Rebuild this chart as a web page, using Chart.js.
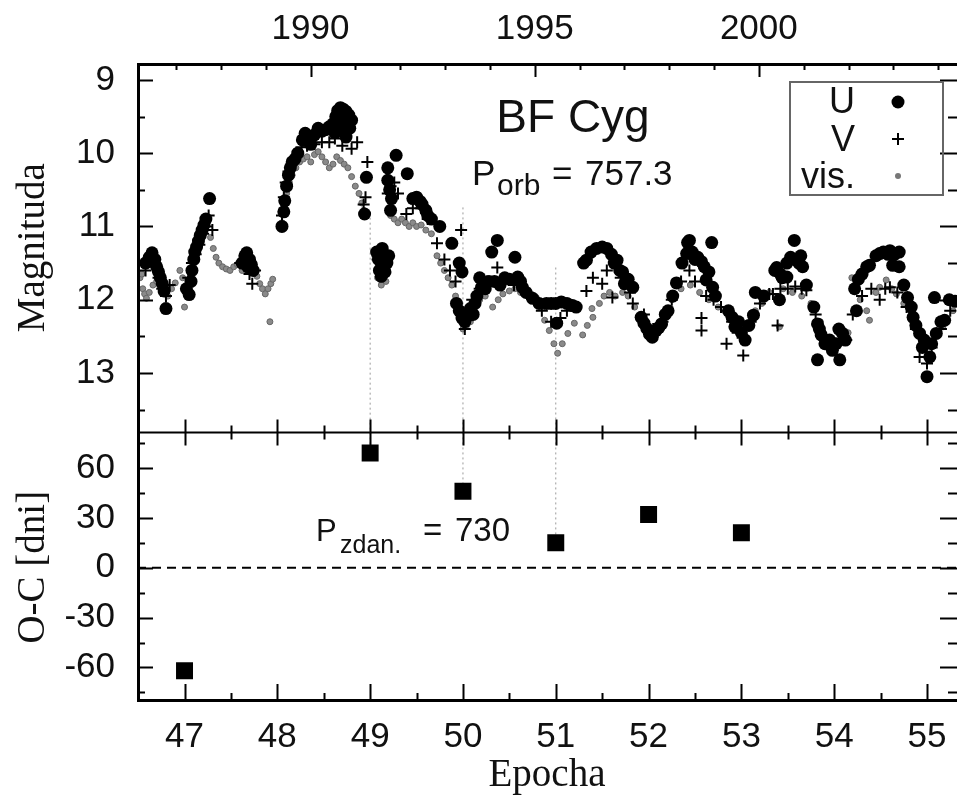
<!DOCTYPE html>
<html>
<head>
<meta charset="utf-8">
<script src="https://cdn.jsdelivr.net/npm/chart.js@4.4.1/dist/chart.umd.min.js"></script>
<style>
html,body{margin:0;padding:0;background:#fff;}
#wrap{width:957px;height:805px;}
</style>
</head>
<body>
<div id="wrap"><canvas id="c" width="957" height="805"></canvas></div>
<script>
// ---------- data ----------
const epochRange = [46.488, 55.323];
const yearRange = [1986.13, 2004.42];
const magRange = [8.77, 13.81];
const ocRange = [-80.8, 81.4];

// U (large black dots)
const uEpoch = [46.58,46.62,46.65,46.68,46.70,46.72,46.74,46.76,46.78,46.80,47.02,47.05,47.07,47.08,47.10,47.11,47.13,47.15,47.17,47.19,47.21,47.23,47.27,47.62,47.65,47.67,47.68,47.70,47.72,47.74,
48.05,48.07,48.08,48.10,48.12,48.14,48.16,48.19,48.22,48.27,48.30,48.33,48.36,48.40,48.44,48.48,48.52,48.56,48.60,48.62,48.63,48.65,48.66,48.68,48.68,48.70,48.71,48.74,48.74,48.75,48.77,48.78,48.80,48.94,48.96,
49.07,49.09,49.10,49.12,49.12,49.13,49.15,49.16,49.18,49.20,49.19,49.19,49.21,49.22,49.23,49.28,49.40,49.46,49.50,49.54,49.56,49.60,49.62,49.66,49.75,49.88,49.93,49.96,49.96,49.99,49.99,
50.02,50.05,50.08,50.11,50.13,50.15,50.18,50.20,50.24,50.28,50.31,50.34,50.37,50.40,50.45,50.50,50.56,50.59,50.62,50.64,50.68,50.75,50.82,50.90,50.95,51.00,51.01,51.06,51.12,51.18,51.22,
51.30,51.33,51.38,51.44,51.50,51.55,51.60,51.63,51.66,51.69,51.72,51.74,51.78,51.83,51.92,51.95,51.98,52.01,52.04,52.08,52.11,52.14,52.18,52.21,52.26,52.30,52.36,52.41,52.42,52.44,52.47,52.50,52.53,52.57,52.60,52.62,52.65,52.68,52.69,52.72,
52.86,52.90,52.93,52.97,53.00,53.04,53.08,53.13,53.15,53.24,53.36,53.38,53.41,53.42,53.44,53.49,53.49,53.53,53.57,53.59,53.62,53.64,53.66,53.70,53.78,53.82,53.82,53.84,53.86,53.90,53.95,53.98,54.02,54.05,54.06,54.09,54.12,
54.22,54.24,54.26,54.30,54.35,54.38,54.45,54.49,54.53,54.58,54.60,54.63,54.65,54.70,54.70,54.75,54.79,54.83,54.85,54.88,54.92,54.95,54.97,55.00,55.03,55.05,55.08,55.10,55.15,55.19,55.24,55.30];
const uMag = [11.50,11.42,11.36,11.45,11.55,11.62,11.70,11.78,11.88,12.12,11.85,11.93,11.75,11.60,11.45,11.35,11.28,11.20,11.12,11.05,10.98,10.90,10.62,11.50,11.40,11.36,11.55,11.45,11.52,11.60,
11.00,10.80,10.65,10.45,10.30,10.20,10.12,10.08,10.00,9.82,9.73,9.78,9.88,9.75,9.66,9.70,9.68,9.64,9.60,9.72,9.50,9.42,9.60,9.38,9.52,9.70,9.40,9.43,9.78,9.60,9.48,9.66,9.55,10.83,10.33,
11.35,11.45,11.60,11.50,11.68,11.30,11.42,11.62,11.50,11.40,10.20,10.37,10.50,10.78,10.62,10.03,10.28,10.62,10.60,10.66,10.70,10.78,10.85,10.90,11.00,11.23,12.05,11.50,12.15,11.62,12.25,
12.30,12.20,12.12,12.20,12.05,11.95,11.70,11.83,11.85,11.75,11.35,11.75,11.19,11.80,11.70,11.72,11.42,11.69,11.75,11.83,11.90,11.98,12.05,12.05,12.05,12.05,12.32,12.03,12.05,12.08,12.10,
11.50,11.46,11.35,11.30,11.28,11.30,11.38,11.50,11.46,11.60,11.62,11.78,11.72,11.83,12.24,12.32,12.39,12.47,12.51,12.42,12.38,12.33,12.20,12.15,11.95,11.77,11.50,11.37,11.22,11.19,11.35,11.45,11.42,11.48,11.55,11.73,11.62,11.22,11.83,11.95,
12.15,12.24,12.37,12.30,12.45,12.55,12.35,12.21,11.90,11.95,11.60,11.56,12.00,11.65,11.70,11.50,11.69,11.42,11.19,11.46,11.50,11.40,11.55,11.80,12.10,12.33,12.82,12.40,12.48,12.60,12.55,12.69,12.60,12.40,12.82,12.46,12.55,
11.85,12.15,11.72,11.65,11.55,11.53,11.40,11.37,11.35,11.38,11.33,11.53,11.38,11.35,11.55,11.80,11.97,12.10,12.24,12.35,12.46,12.65,12.55,13.05,12.78,12.60,11.97,12.46,12.30,12.28,12.00,12.02];

// V (plus signs)
const vEpoch = [46.58,46.66,46.72,46.76,46.80,46.84,47.04,47.08,47.12,47.16,47.20,47.24,47.26,47.30,47.60,47.66,47.70,47.73,47.76,
48.05,48.07,48.09,48.12,48.16,48.20,48.26,48.32,48.40,48.48,48.56,48.62,48.70,48.80,48.86,48.97,48.95,48.93,
49.08,49.12,49.16,49.19,49.22,49.26,49.30,49.39,49.46,49.55,49.62,49.72,49.80,49.86,49.92,49.98,50.00,50.04,50.02,
50.10,50.18,50.26,50.37,50.45,50.55,50.69,50.75,50.85,50.95,51.05,51.12,51.20,51.33,51.40,51.50,51.55,51.61,51.70,51.80,51.83,51.95,
52.05,52.15,52.25,52.35,52.44,52.50,52.57,52.57,52.62,52.70,52.78,52.84,52.90,52.96,53.02,53.10,53.20,53.30,53.34,53.39,53.42,53.50,53.58,53.65,53.70,
53.80,53.90,54.00,54.13,54.20,54.30,54.40,54.49,54.55,54.60,54.68,54.78,54.88,54.92,55.00,55.05,55.15,55.25];
const vMag = [11.60,11.55,11.70,11.85,11.95,11.80,11.70,11.50,11.38,11.25,11.10,11.00,10.85,11.05,11.50,11.55,11.65,11.78,11.60,
10.85,10.60,10.40,10.25,10.15,10.05,9.92,9.90,9.88,9.85,9.85,9.80,9.90,9.94,9.85,10.12,10.60,10.70,
11.45,11.55,11.50,10.55,10.45,10.40,10.55,10.83,10.75,10.75,10.90,11.23,11.45,11.60,11.75,11.05,12.20,12.28,12.40,
12.00,11.85,11.75,11.56,11.75,11.80,11.92,11.97,12.15,12.30,12.25,12.15,12.10,11.88,11.70,11.78,11.60,11.97,11.70,11.90,12.05,12.20,
12.40,12.30,12.00,11.75,11.60,11.75,12.25,12.42,11.95,12.00,12.10,12.60,12.30,12.45,12.76,12.30,12.05,11.92,11.92,12.35,11.85,11.85,11.82,11.85,11.87,
12.20,12.50,12.60,12.55,12.20,11.95,11.85,12.00,11.85,11.83,11.90,12.10,12.40,12.78,12.87,12.65,12.40,12.15];

// visual estimates (small grey dots)
const visEpoch = [46.52,46.54,46.55,46.57,46.59,46.62,46.66,46.70,46.75,46.82,46.86,46.90,46.95,46.98,47.00,47.03,47.06,47.28,47.31,47.34,47.37,47.41,47.45,47.49,47.53,47.57,47.62,47.78,47.81,47.84,47.87,47.90,47.93,47.95,47.92,
48.05,48.08,48.10,48.13,48.16,48.20,48.24,48.28,48.32,48.36,48.40,48.44,48.48,48.52,48.56,48.60,48.64,48.68,48.72,48.76,48.80,48.84,48.88,48.91,48.93,
49.05,49.08,49.12,49.17,49.22,49.26,49.30,49.34,49.38,49.42,49.46,49.50,49.55,49.60,49.66,49.72,49.76,49.80,49.84,49.88,49.92,49.96,
50.00,50.04,50.08,50.12,50.18,50.24,50.32,50.38,50.43,50.50,50.56,50.62,50.70,50.79,50.86,50.88,50.93,50.98,51.02,51.07,51.13,51.20,51.29,51.34,51.39,51.40,51.47,51.52,51.58,51.64,51.72,51.78,51.85,51.95,
52.05,52.12,52.20,52.25,52.35,52.45,52.55,52.65,52.75,52.85,52.95,53.05,53.15,53.22,53.30,53.41,53.45,53.55,53.65,53.75,53.85,53.95,54.05,54.15,54.19,54.28,54.35,54.38,54.45,54.49,54.56,54.62,54.67,54.75,54.85,54.95,55.02,55.10,55.17,55.28];
const visMag = [11.70,11.65,11.85,11.92,11.98,11.90,11.80,11.75,11.90,11.95,11.85,11.77,11.60,11.70,12.10,11.80,11.60,11.15,11.30,11.42,11.50,11.55,11.58,11.60,11.55,11.52,11.60,11.68,11.78,11.85,11.92,11.85,11.78,11.72,12.30,
10.95,10.75,10.55,10.40,10.30,10.20,10.12,10.08,10.05,10.12,10.02,9.98,10.05,10.12,10.20,10.15,10.05,10.10,10.15,10.20,10.32,10.45,10.55,10.68,10.78,
11.40,11.70,11.80,11.75,10.85,10.90,10.95,10.90,10.95,11.00,10.95,11.00,10.98,11.05,11.10,11.40,11.50,11.60,11.70,11.80,11.95,12.05,
12.40,12.35,12.30,12.10,12.00,11.95,12.10,12.00,11.92,11.88,11.85,11.90,11.95,11.97,12.10,12.28,12.42,12.60,12.73,12.60,12.46,12.32,12.48,12.35,12.12,12.24,12.05,11.95,11.90,11.95,11.90,11.95,12.10,12.25,
12.40,12.30,12.20,12.00,11.85,11.80,11.90,12.00,12.10,12.20,12.30,12.35,12.15,12.05,11.90,12.37,11.85,11.90,11.95,12.05,12.30,12.55,12.60,12.45,11.70,12.00,12.15,12.28,11.90,11.83,11.73,11.85,11.92,12.05,12.30,12.55,12.60,12.45,12.37,12.15];

// O-C diagram
const ocEpoch = [47, 49, 50, 51, 52, 53];
const ocValue = [-62, 69, 46, 15, 32, 21];

// dotted guide lines
const guideEpochs = [49, 50, 51];
const guideMagStart = [10.88, 10.74, 11.56];

// text
const titleText = 'BF Cyg';
const legendLabels = ['U', 'V', 'vis.'];

// ---------- build ----------
const zip = (xs, ys) => xs.map((x, i) => ({x: x, y: ys[i]}));

const datasets = [
  {label:'V', data: zip(vEpoch, vMag), yAxisID:'yMag', xAxisID:'x', pointStyle:'cross', pointRadius:6, borderColor:'#000', borderWidth:2, backgroundColor:'#000', showLine:false},
  {label:'U', data: zip(uEpoch, uMag), yAxisID:'yMag', xAxisID:'x', pointStyle:'circle', pointRadius:6.5, backgroundColor:'#000', borderWidth:0, showLine:false},
  {label:'vis.', data: zip(visEpoch, visMag), yAxisID:'yMag', xAxisID:'x', pointStyle:'circle', pointRadius:3, backgroundColor:'#8a8a8a', borderColor:'#666', borderWidth:1, showLine:false},
  {label:'O-C', data: zip(ocEpoch, ocValue), yAxisID:'yOC', xAxisID:'x', pointStyle:'rect', pointRadius:12, backgroundColor:'#000', borderWidth:0, showLine:false},
  {label:'zero', data:[{x:epochRange[0], y:0},{x:epochRange[1], y:0}], yAxisID:'yOC', xAxisID:'x', showLine:true, pointRadius:0, borderColor:'#000', borderWidth:2, borderDash:[9,6]}
];
guideEpochs.forEach((e, i) => {
  datasets.push({label:'g'+i, data:[{x:e, y:guideMagStart[i]},{x:e, y:magRange[1]}], yAxisID:'yMag', xAxisID:'x', showLine:true, pointRadius:0, borderColor:'#9a9a9a', borderWidth:1, borderDash:[2,3]});
  const k = ocEpoch.indexOf(e);
  datasets.push({label:'h'+i, data:[{x:e, y:ocRange[1]},{x:e, y:ocValue[k]}], yAxisID:'yOC', xAxisID:'x', showLine:true, pointRadius:0, borderColor:'#9a9a9a', borderWidth:1, borderDash:[2,3]});
});

const SANS = "'Liberation Sans', Arial, sans-serif";
const SERIF = "'Liberation Serif', 'Times New Roman', serif";

const decor = {
  id: 'decor',
  afterDatasetsDraw(chart) {
    const {ctx, chartArea: a, scales: s} = chart;
    const xs = s.x, ym = s.yMag, yo = s.yOC, xt = s.xTop;
    const div = ym.bottom;
    const R = a.right - 1;
    ctx.save();
    ctx.strokeStyle = '#000';
    ctx.lineWidth = 2;
    ctx.beginPath();
    // magnitude ticks (left + right)
    for (let v = 9; v <= 13.5 + 1e-9; v += 0.5) {
      const p = Math.round(ym.getPixelForValue(v)) + 0.5;
      const L = Number.isInteger(v) ? 16 : 8;
      ctx.moveTo(a.left, p); ctx.lineTo(a.left + L, p);
      ctx.moveTo(R + 1, p); ctx.lineTo(R - L, p);
    }
    // O-C ticks
    for (let v = -75; v <= 75; v += 15) {
      const p = Math.round(yo.getPixelForValue(v)) + 0.5;
      const L = (v % 30 === 0) ? 16 : 8;
      ctx.moveTo(a.left, p); ctx.lineTo(a.left + L, p);
      ctx.moveTo(R + 1, p); ctx.lineTo(R - L, p);
    }
    // epoch ticks: bottom and on divider
    for (let v = 46.5; v <= 55.5; v += 0.5) {
      if (v < epochRange[0] || v > epochRange[1]) continue;
      const p = Math.round(xs.getPixelForValue(v)) + 0.5;
      const major = Number.isInteger(v);
      const L = major ? 18 : 9;
      ctx.moveTo(p, a.bottom); ctx.lineTo(p, a.bottom - L);
      const D = major ? 13 : 7;
      ctx.moveTo(p, div - D); ctx.lineTo(p, div + D);
    }
    // year ticks on top
    for (let v = 1987; v <= 2004; v++) {
      const p = Math.round(xt.getPixelForValue(v)) + 0.5;
      const L = (v % 5 === 0) ? 14 : 7;
      ctx.moveTo(p, a.top); ctx.lineTo(p, a.top + L);
    }
    ctx.stroke();

    // frame (left, top, bottom; right edge falls at the image border)
    ctx.lineWidth = 3;
    ctx.beginPath();
    ctx.moveTo(a.right, a.top + 1.5); ctx.lineTo(a.left + 1.5, a.top + 1.5);
    ctx.lineTo(a.left + 1.5, a.bottom - 1.5); ctx.lineTo(a.right, a.bottom - 1.5);
    ctx.stroke();
    ctx.lineWidth = 2;
    ctx.beginPath(); ctx.moveTo(a.left, div); ctx.lineTo(a.right, div); ctx.stroke();

    // title texts
    ctx.fillStyle = '#111';
    ctx.textBaseline = 'alphabetic';
    ctx.textAlign = 'center';
    ctx.font = '46px ' + SANS;
    ctx.fillText(titleText, 573, 132);

    ctx.textAlign = 'left';
    ctx.font = '35px ' + SANS;
    ctx.fillText('P', 472, 185);
    ctx.font = '30px ' + SANS;
    ctx.fillText('orb', 497, 195);
    ctx.font = '35px ' + SANS;
    ctx.fillText('=', 552, 185);
    ctx.fillText('757.3', 585, 185);

    ctx.font = '31px ' + SANS;
    ctx.fillText('P', 316, 541);
    ctx.font = '25px ' + SANS;
    ctx.fillText('zdan.', 340, 553);
    ctx.font = '33px ' + SANS;
    ctx.fillText('=', 423, 541);
    ctx.fillText('730', 455, 541);

    // legend
    ctx.strokeStyle = '#666';
    ctx.lineWidth = 2;
    ctx.strokeRect(790, 82, 153, 113);
    ctx.fillStyle = '#111';
    ctx.textAlign = 'right';
    ctx.font = '36px ' + SANS;
    ctx.fillText(legendLabels[0], 855, 113);
    ctx.fillText(legendLabels[1], 855, 151);
    ctx.fillText(legendLabels[2], 855, 188);
    ctx.fillStyle = '#000';
    ctx.beginPath(); ctx.arc(898, 102, 6.5, 0, Math.PI * 2); ctx.fill();
    ctx.strokeStyle = '#000'; ctx.lineWidth = 2;
    ctx.beginPath(); ctx.moveTo(892, 139); ctx.lineTo(904, 139); ctx.moveTo(898, 133); ctx.lineTo(898, 145); ctx.stroke();
    ctx.fillStyle = '#777';
    ctx.beginPath(); ctx.arc(898, 176, 3, 0, Math.PI * 2); ctx.fill();
    ctx.restore();
  }
};

const tickFont = {family: SANS, size: 35};
const titleFont = {family: SERIF, size: 39};
const noPad = s => { s.paddingLeft = 0; s.paddingRight = 0; s.paddingTop = 0; s.paddingBottom = 0; };

new Chart(document.getElementById('c'), {
  type: 'scatter',
  data: {datasets},
  plugins: [decor],
  options: {
    responsive: false,
    devicePixelRatio: 1,
    animation: false,
    events: [],
    layout: {padding: 0, autoPadding: false},
    plugins: {legend: {display: false}, tooltip: {enabled: false}},
    scales: {
      x: {
        type: 'linear', position: 'bottom', min: epochRange[0], max: epochRange[1],
        grid: {display: false, drawTicks: false}, border: {display: false},
        ticks: {stepSize: 1, includeBounds: false, autoSkip: false, maxRotation: 0, color: '#111', font: tickFont, padding: 14, callback: v => String(v)},
        title: {display: true, text: 'Epocha', color: '#111', font: titleFont, padding: {top: 0, bottom: 6}},
        afterFit: s => { s.height = 103; noPad(s); }
      },
      xTop: {
        type: 'linear', position: 'top', min: yearRange[0], max: yearRange[1],
        grid: {display: false, drawTicks: false}, border: {display: false},
        ticks: {stepSize: 5, includeBounds: false, autoSkip: false, maxRotation: 0, color: '#111', font: tickFont, padding: 13, callback: v => String(v)},
        afterFit: s => { s.height = 63; noPad(s); }
      },
      yOC: {
        type: 'linear', position: 'left', stack: 'panels', stackWeight: 270,
        min: ocRange[0], max: ocRange[1],
        grid: {display: false, drawTicks: false}, border: {display: false},
        ticks: {stepSize: 30, includeBounds: false, autoSkip: false, color: '#111', font: tickFont, padding: 22, callback: v => String(v)},
        title: {display: true, text: 'O-C [dni]', color: '#111', font: titleFont, padding: {top: 10, bottom: 0}},
        afterFit: s => { s.width = 137; noPad(s); }
      },
      yMag: {
        type: 'linear', position: 'left', stack: 'panels', stackWeight: 370, reverse: true,
        min: magRange[0], max: magRange[1],
        grid: {display: false, drawTicks: false}, border: {display: false},
        ticks: {stepSize: 1, includeBounds: false, autoSkip: false, color: '#111', font: tickFont, padding: 22, callback: v => String(v)},
        title: {display: true, text: 'Magnituda', color: '#111', font: titleFont, padding: {top: 10, bottom: 0}},
        afterFit: s => { s.width = 137; noPad(s); }
      }
    }
  }
});
</script>
</body>
</html>
